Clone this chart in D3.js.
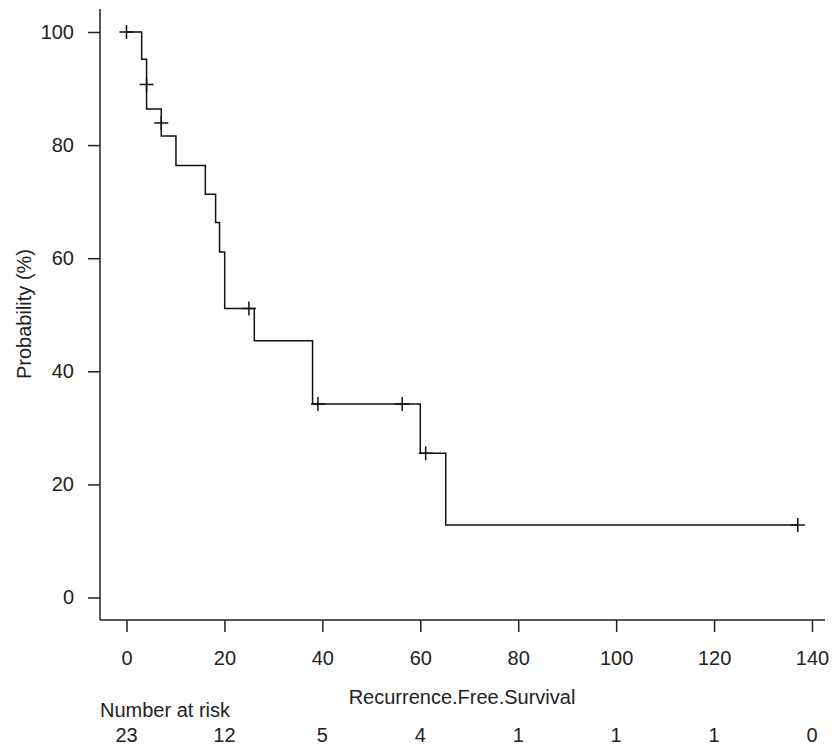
<!DOCTYPE html>
<html>
<head>
<meta charset="utf-8">
<script src="https://cdn.jsdelivr.net/npm/d3@7"></script>
<style>
  body { margin: 0; background: #fff; }
  svg text { font-family: "Liberation Sans", Arial, sans-serif; font-size: 20px; fill: #222; }
  .axis path, .axis line { stroke: #222; stroke-width: 1.5; }
</style>
</head>
<body>
<svg id="plot" width="834" height="751"></svg>
<script>
// Kaplan-Meier step points (time, survival %)
const STEP_TIMES = [0, 3.1, 4.1, 7.1, 10.1, 16.1, 18.2, 19.0, 20.05, 26.1, 38.0, 60.0, 65.2];
const STEP_SURV = [100, 95.2, 86.4, 81.6, 76.4, 71.3, 66.3, 61.1, 51.1, 45.4, 34.2, 25.5, 12.8];
const END_TIME = 137.1;

// censored observations
const CENSOR_TIMES = [0, 4.1, 7.1, 25.0, 39.1, 56.3, 61.1, 137.1];
const CENSOR_SURV = [100, 90.7, 83.9, 51.1, 34.2, 34.2, 25.5, 12.8];

const X_TICKS = [0, 20, 40, 60, 80, 100, 120, 140];
const Y_TICKS = [0, 20, 40, 60, 80, 100];
const AT_RISK = [23, 12, 5, 4, 1, 1, 1, 0];

const svg = d3.select('#plot');

const x = d3.scaleLinear().domain([0, 140]).range([126.5, 812]);
const y = d3.scaleLinear().domain([0, 100]).range([597.5, 32]);

// axes lines (L shape)
svg.append('line')
  .attr('x1', 100).attr('x2', 100).attr('y1', 9).attr('y2', 620)
  .attr('stroke', '#222').attr('stroke-width', 1.5);
svg.append('line')
  .attr('x1', 100).attr('x2', 825).attr('y1', 620).attr('y2', 620)
  .attr('stroke', '#222').attr('stroke-width', 1.5);

const yAxis = svg.append('g')
  .attr('class', 'axis')
  .attr('transform', 'translate(100,0)')
  .call(d3.axisLeft(y).tickValues(Y_TICKS).tickSize(12).tickPadding(14));
yAxis.select('.domain').remove();

const xAxis = svg.append('g')
  .attr('class', 'axis')
  .attr('transform', 'translate(0,620)')
  .call(d3.axisBottom(x).tickValues(X_TICKS).tickSize(12).tickPadding(19));
xAxis.select('.domain').remove();

svg.selectAll('.axis text')
  .style('font-family', '"Liberation Sans", Arial, sans-serif')
  .style('font-size', '20px')
  .attr('fill', '#222');

// survival curve
const steps = STEP_TIMES.map((t, i) => ({t: t, s: STEP_SURV[i]}));
steps.push({t: END_TIME, s: STEP_SURV[STEP_SURV.length - 1]});

const line = d3.line()
  .x(d => x(d.t))
  .y(d => y(d.s))
  .curve(d3.curveStepAfter);

svg.append('path')
  .datum(steps)
  .attr('d', line)
  .attr('fill', 'none')
  .attr('stroke', '#111')
  .attr('stroke-width', 1.5);

// censor marks
const censors = CENSOR_TIMES.map((t, i) => ({t: t, s: CENSOR_SURV[i]}));
const marks = svg.append('g').selectAll('path')
  .data(censors)
  .enter().append('path')
  .attr('d', d => {
    const cx = x(d.t), cy = y(d.s);
    return `M${cx - 7},${cy}H${cx + 7}M${cx},${cy - 7}V${cy + 7}`;
  })
  .attr('stroke', '#111')
  .attr('stroke-width', 1.5);

// axis titles
svg.append('text')
  .attr('text-anchor', 'middle')
  .attr('transform', 'translate(31,314) rotate(-90)')
  .text('Probability (%)');

svg.append('text')
  .attr('x', 462).attr('y', 704)
  .attr('text-anchor', 'middle')
  .text('Recurrence.Free.Survival');

// number at risk table
svg.append('text')
  .attr('x', 100).attr('y', 717)
  .text('Number at risk');

svg.append('g').selectAll('text')
  .data(AT_RISK)
  .enter().append('text')
  .attr('x', (d, i) => x(X_TICKS[i]))
  .attr('y', 742)
  .attr('text-anchor', 'middle')
  .text(d => d);
</script>
</body>
</html>
